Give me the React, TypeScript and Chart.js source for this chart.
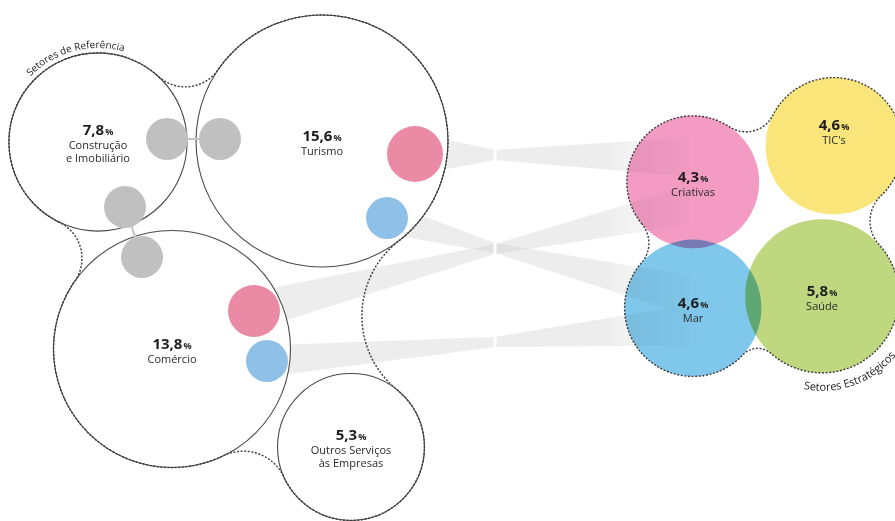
import React, { useEffect, useRef } from "react";
import { Chart, registerables } from "chart.js";

Chart.register(...registerables);

// ---------------- data ----------------
const refSectorNames = ["Construção\ne Imobiliário", "Turismo", "Comércio", "Outros Serviços\nàs Empresas"];
const refSectorValues = [7.8, 15.6, 13.8, 5.3];
const stratSectorNames = ["Criativas", "TIC's", "Mar", "Saúde"];
const stratSectorValues = [4.3, 4.6, 4.6, 5.8];
const groupTitles = ["Setores de Referência", "Setores Estratégicos"];

// ---------------- layout (scale units = pixels of the 895x521 frame) ----------------
const refX = [98, 322, 172, 351];
const refY = [142, 141, 349, 447];
const stratX = [693, 834, 693, 822];
const stratY = [182, 146, 308, 296];
const stratLabelDy = [0, -16, 0, 0];
const RADIUS_PER_SQRT = 31.9;

const linkDotX = [167, 220, 125, 142];
const linkDotY = [139, 139, 207, 257];
const linkDotR = [21, 21, 21, 21];
const accentX = [415, 387, 254, 267];
const accentY = [154, 218, 311, 361];
const accentR = [28, 21, 26, 21];

// bands: accent dot -> strategic sector
const bandSource = [0, 1, 2, 3];
const bandTarget = [0, 2, 0, 2];
const bandMidY = [155, 248, 249, 342];
const bandEndY = [157, 296, 205, 325];
const BAND_MID_X = 495;
const BAND_END_X = 690;

// hull outlines
const refHullOrder = [0, 1, 3, 2];
const refNeckR = [40, 95, 45, 40];
const stratHullOrder = [0, 1, 3, 2];
const stratNeckR = [30, 35, 20, 30];

// styles
const stratColors = ["rgb(243,155,195)", "rgb(250,229,123)", "rgb(127,199,235)", "rgb(191,215,127)"];
const accentColors = ["#ea8aa5", "#8ec0e8", "#ea8aa5", "#8ec0e8"];
const FONT = "'Open Sans', 'DejaVu Sans', sans-serif";

type C = { x: number; y: number; r: number };

function neck(A: C, B: C, R: number) {
  const dx = B.x - A.x, dy = B.y - A.y;
  const d = Math.hypot(dx, dy);
  const a = A.r + R, b = B.r + R;
  const t = (a * a - b * b + d * d) / (2 * d);
  const h = Math.sqrt(Math.max(0, a * a - t * t));
  const ux = dx / d, uy = dy / d;
  const px = A.x + ux * t + uy * h;
  const py = A.y + uy * t - ux * h;
  const ta = { x: px + ((A.x - px) / a) * R, y: py + ((A.y - py) / a) * R };
  const tb = { x: px + ((B.x - px) / b) * R, y: py + ((B.y - py) / b) * R };
  return { px, py, R, ta, tb };
}

function drawHull(ctx: CanvasRenderingContext2D, circles: C[], necks: number[]) {
  const n = circles.length;
  const nk = circles.map((c, i) => neck(c, circles[(i + 1) % n], necks[i]));
  ctx.beginPath();
  for (let i = 0; i < n; i++) {
    const c = circles[i];
    const prev = nk[(i - 1 + n) % n];
    const next = nk[i];
    const a1 = Math.atan2(prev.tb.y - c.y, prev.tb.x - c.x);
    const a2 = Math.atan2(next.ta.y - c.y, next.ta.x - c.x);
    ctx.arc(c.x, c.y, c.r, a1, a2, false);
    const b1 = Math.atan2(next.ta.y - next.py, next.ta.x - next.px);
    const b2 = Math.atan2(next.tb.y - next.py, next.tb.x - next.px);
    let diff = b2 - b1;
    while (diff > Math.PI) diff -= 2 * Math.PI;
    while (diff < -Math.PI) diff += 2 * Math.PI;
    ctx.arc(next.px, next.py, next.R, b1, b2, diff < 0);
  }
  ctx.closePath();
  ctx.stroke();
}

function drawArcText(ctx: CanvasRenderingContext2D, text: string, cx: number, cy: number, radius: number,
  centerAngle: number, clockwise: boolean, font: string) {
  ctx.save();
  ctx.font = font;
  ctx.textAlign = "center";
  ctx.textBaseline = "alphabetic";
  const total = ctx.measureText(text).width;
  const span = total / radius;
  let offset = 0;
  for (const ch of Array.from(text)) {
    const cw = ctx.measureText(ch).width;
    const a = clockwise
      ? centerAngle - span / 2 + (offset + cw / 2) / radius
      : centerAngle + span / 2 - (offset + cw / 2) / radius;
    ctx.save();
    ctx.translate(cx + radius * Math.cos(a), cy + radius * Math.sin(a));
    ctx.rotate(clockwise ? a + Math.PI / 2 : a - Math.PI / 2);
    ctx.fillText(ch, 0, 0);
    ctx.restore();
    offset += cw;
  }
  ctx.restore();
}

function drawLabel(ctx: CanvasRenderingContext2D, x: number, y: number, value: number, name: string) {
  const lines = name.split("\n");
  const num = value.toFixed(1).replace(".", ",");
  const fBig = `bold 15px ${FONT}`;
  const fPct = `bold 9px ${FONT}`;
  ctx.font = fBig;
  const w1 = ctx.measureText(num).width;
  ctx.font = fPct;
  const w2 = ctx.measureText("%").width;
  const total = w1 + w2 + 1;
  const blockH = 16 + lines.length * 13;
  const base1 = y - blockH / 2 + 14;
  ctx.fillStyle = "#1e1e1e";
  ctx.textBaseline = "alphabetic";
  ctx.textAlign = "left";
  ctx.font = fBig;
  ctx.fillText(num, x - total / 2, base1);
  ctx.font = fPct;
  ctx.fillText("%", x - total / 2 + w1 + 1, base1);
  ctx.font = `11px ${FONT}`;
  ctx.textAlign = "center";
  ctx.fillStyle = "#2a2a2a";
  lines.forEach((l, i) => ctx.fillText(l, x, base1 + 14 + i * 13));
}

const circlesOf = (chart: any, idx: number): C[] =>
  chart.getDatasetMeta(idx).data.map((el: any) => ({ x: el.x, y: el.y, r: el.options.radius }));

const infographicPlugin = {
  id: "infographic",
  beforeDatasetsDraw(chart: any) {
    const ctx: CanvasRenderingContext2D = chart.ctx;
    const xs = chart.scales.x, ys = chart.scales.y;
    const acc = circlesOf(chart, 3);
    const strat = circlesOf(chart, 1);
    ctx.save();
    const grad = ctx.createLinearGradient(xs.getPixelForValue(600), 0, xs.getPixelForValue(BAND_END_X), 0);
    grad.addColorStop(0, "rgba(200,200,200,0.33)");
    grad.addColorStop(1, "rgba(200,200,200,0.03)");
    ctx.fillStyle = grad;
    bandSource.forEach((s, i) => {
      const src = acc[s];
      const tgt = strat[bandTarget[i]];
      const mx = xs.getPixelForValue(BAND_MID_X);
      const my = ys.getPixelForValue(bandMidY[i]);
      const ex = xs.getPixelForValue(BAND_END_X);
      const ey = ys.getPixelForValue(bandEndY[i]);
      const sw = src.r * 0.75, mw = 5, ew = tgt.r * 0.3;
      ctx.beginPath();
      ctx.moveTo(src.x, src.y - sw);
      ctx.lineTo(mx, my - mw);
      ctx.lineTo(ex, ey - ew);
      ctx.lineTo(ex, ey + ew);
      ctx.lineTo(mx, my + mw);
      ctx.lineTo(src.x, src.y + sw);
      ctx.closePath();
      ctx.fill();
    });
    ctx.fillStyle = "#ffffff";
    const gx = xs.getPixelForValue(BAND_MID_X);
    ctx.fillRect(gx - 1.5, ys.getPixelForValue(100), 3, ys.getPixelForValue(365) - ys.getPixelForValue(100));
    ctx.restore();
  },
  beforeDatasetDraw(chart: any, args: any) {
    if (args.index === 1) {
      chart.ctx.save();
      chart.ctx.globalCompositeOperation = "multiply";
    }
  },
  afterDatasetDraw(chart: any, args: any) {
    if (args.index === 1) chart.ctx.restore();
  },
  afterDatasetsDraw(chart: any) {
    const ctx: CanvasRenderingContext2D = chart.ctx;
    const ref = circlesOf(chart, 0);
    const strat = circlesOf(chart, 1);
    const links = circlesOf(chart, 2);
    ctx.save();
    // link bars between grey dots
    ctx.strokeStyle = "#c4c4c4";
    ctx.lineWidth = 2;
    for (let i = 0; i < links.length; i += 2) {
      const a = links[i], b = links[i + 1];
      const d = Math.hypot(b.x - a.x, b.y - a.y);
      const ux = (b.x - a.x) / d, uy = (b.y - a.y) / d;
      ctx.beginPath();
      ctx.moveTo(a.x + ux * (a.r - 1), a.y + uy * (a.r - 1));
      ctx.lineTo(b.x - ux * (b.r - 1), b.y - uy * (b.r - 1));
      ctx.stroke();
    }
    // dashed group outlines
    ctx.strokeStyle = "#3a3a3a";
    ctx.lineWidth = 1.4;
    ctx.setLineDash([2, 1.6]);
    drawHull(ctx, refHullOrder.map((i) => ref[i]), refNeckR);
    drawHull(ctx, stratHullOrder.map((i) => strat[i]), stratNeckR);
    ctx.setLineDash([]);
    // labels
    ref.forEach((c, i) => drawLabel(ctx, c.x, c.y, refSectorValues[i], refSectorNames[i]));
    strat.forEach((c, i) => drawLabel(ctx, c.x, c.y + stratLabelDy[i], stratSectorValues[i], stratSectorNames[i]));
    // group titles along arcs
    ctx.fillStyle = "#222";
    drawArcText(ctx, groupTitles[0], ref[0].x, ref[0].y, ref[0].r + 5, (-105 * Math.PI) / 180, true, `10px ${FONT}`);
    drawArcText(ctx, groupTitles[1], strat[3].x, strat[3].y, strat[3].r + 18, (70 * Math.PI) / 180, false, `11px ${FONT}`);
    ctx.restore();
  },
};

export default function App() {
  const canvasRef = useRef<HTMLCanvasElement | null>(null);

  useEffect(() => {
    document.body.style.margin = "0";
    const canvas = canvasRef.current;
    if (!canvas) return;
    const rad = (v: number) => RADIUS_PER_SQRT * Math.sqrt(v);
    const chart = new Chart(canvas, {
      type: "bubble",
      data: {
        datasets: [
          {
            label: "Setores de Referência",
            data: refSectorValues.map((v, i) => ({ x: refX[i], y: refY[i], r: rad(v) })),
            backgroundColor: "#ffffff",
            borderColor: "#4a4a4a",
            borderWidth: 1.1,
            order: 3,
            clip: false,
          } as any,
          {
            label: "Setores Estratégicos",
            data: stratSectorValues.map((v, i) => ({ x: stratX[i], y: stratY[i], r: rad(v) })),
            backgroundColor: stratColors,
            borderWidth: 0,
            order: 4,
            clip: false,
          } as any,
          {
            label: "links",
            data: linkDotX.map((x, i) => ({ x, y: linkDotY[i], r: linkDotR[i] })),
            backgroundColor: "#c0c0c0",
            borderWidth: 0,
            order: 1,
            clip: false,
          } as any,
          {
            label: "accent",
            data: accentX.map((x, i) => ({ x, y: accentY[i], r: accentR[i] })),
            backgroundColor: accentColors,
            borderWidth: 0,
            order: 0,
            clip: false,
          } as any,
        ],
      },
      options: {
        responsive: false,
        animation: false,
        devicePixelRatio: 1,
        layout: { padding: 0, autoPadding: false },
        events: [],
        scales: {
          x: { type: "linear", min: 0, max: 895, display: false },
          y: { type: "linear", min: 0, max: 521, reverse: true, display: false },
        },
        plugins: { legend: { display: false }, tooltip: { enabled: false } },
      },
      plugins: [infographicPlugin],
    });
    return () => chart.destroy();
  }, []);

  return (
    <div style={{ width: 895, height: 521, position: "relative", background: "#fff" }}>
      <canvas ref={canvasRef} width={895} height={521} style={{ display: "block" }} />
    </div>
  );
}
